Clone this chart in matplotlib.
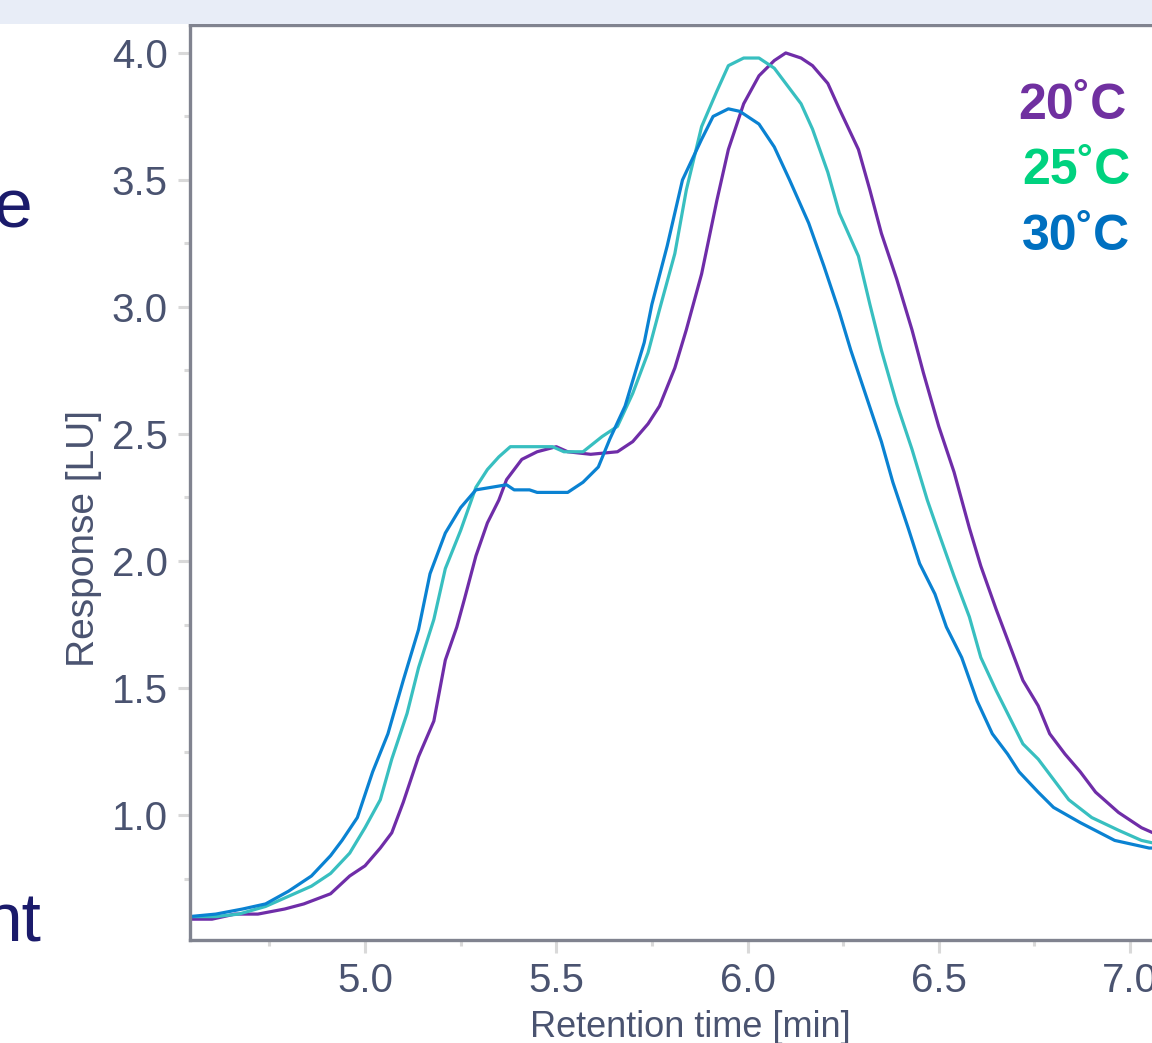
import matplotlib.pyplot as plt
from matplotlib.ticker import MultipleLocator
from matplotlib.patches import Rectangle

# retention time [min] / response [LU]
t20 = [4.54, 4.60, 4.66, 4.72, 4.79, 4.84, 4.91, 4.96, 5.00, 5.04, 5.07, 5.10, 5.14, 5.18, 5.21, 5.24,
       5.26, 5.29, 5.32, 5.35, 5.37, 5.41, 5.45, 5.50, 5.53, 5.59, 5.66, 5.70, 5.74, 5.77, 5.81, 5.84,
       5.88, 5.92, 5.95, 5.99, 6.03, 6.07, 6.10, 6.14, 6.17, 6.21, 6.24, 6.29, 6.32, 6.35, 6.39, 6.43,
       6.46, 6.50, 6.54, 6.58, 6.61, 6.65, 6.69, 6.72, 6.76, 6.79, 6.83, 6.87, 6.91, 6.97, 7.03, 7.06]
r20 = [0.59, 0.59, 0.61, 0.61, 0.63, 0.65, 0.69, 0.76, 0.80, 0.87, 0.93, 1.05, 1.23, 1.37, 1.61, 1.74,
       1.85, 2.02, 2.15, 2.24, 2.32, 2.40, 2.43, 2.45, 2.43, 2.42, 2.43, 2.47, 2.54, 2.61, 2.76, 2.91,
       3.13, 3.42, 3.62, 3.80, 3.91, 3.97, 4.00, 3.98, 3.95, 3.88, 3.78, 3.62, 3.46, 3.29, 3.11, 2.91,
       2.74, 2.53, 2.35, 2.13, 1.98, 1.81, 1.65, 1.53, 1.43, 1.32, 1.24, 1.17, 1.09, 1.01, 0.95, 0.93]

t25 = [4.54, 4.61, 4.67, 4.74, 4.80, 4.86, 4.91, 4.96, 5.00, 5.04, 5.07, 5.11, 5.14, 5.18, 5.21, 5.25,
       5.29, 5.32, 5.35, 5.38, 5.49, 5.52, 5.57, 5.62, 5.66, 5.70, 5.74, 5.77, 5.81, 5.84, 5.88, 5.92,
       5.95, 5.99, 6.03, 6.07, 6.10, 6.14, 6.17, 6.21, 6.24, 6.29, 6.32, 6.35, 6.39, 6.43, 6.47, 6.50,
       6.54, 6.58, 6.61, 6.65, 6.69, 6.72, 6.76, 6.80, 6.84, 6.90, 6.97, 7.03, 7.06]
r25 = [0.60, 0.60, 0.61, 0.64, 0.68, 0.72, 0.77, 0.85, 0.95, 1.06, 1.22, 1.40, 1.58, 1.77, 1.97, 2.12,
       2.29, 2.36, 2.41, 2.45, 2.45, 2.43, 2.43, 2.49, 2.53, 2.66, 2.82, 2.99, 3.21, 3.46, 3.71, 3.85,
       3.95, 3.98, 3.98, 3.94, 3.88, 3.80, 3.70, 3.53, 3.37, 3.20, 3.01, 2.83, 2.62, 2.44, 2.24, 2.11,
       1.94, 1.78, 1.62, 1.49, 1.37, 1.28, 1.22, 1.14, 1.06, 0.99, 0.94, 0.90, 0.89]

t30 = [4.54, 4.61, 4.68, 4.74, 4.80, 4.86, 4.91, 4.94, 4.98, 5.02, 5.06, 5.10, 5.14, 5.17, 5.21, 5.25,
       5.29, 5.33, 5.37, 5.39, 5.43, 5.45, 5.53, 5.57, 5.61, 5.64, 5.68, 5.71, 5.73, 5.75, 5.79, 5.83,
       5.88, 5.91, 5.95, 5.98, 6.03, 6.07, 6.11, 6.16, 6.20, 6.24, 6.27, 6.31, 6.35, 6.38, 6.42, 6.45,
       6.49, 6.52, 6.56, 6.60, 6.64, 6.68, 6.71, 6.76, 6.80, 6.87, 6.96, 7.05, 7.06]
r30 = [0.60, 0.61, 0.63, 0.65, 0.70, 0.76, 0.84, 0.90, 0.99, 1.17, 1.32, 1.53, 1.73, 1.95, 2.11, 2.21,
       2.28, 2.29, 2.30, 2.28, 2.28, 2.27, 2.27, 2.31, 2.37, 2.48, 2.61, 2.76, 2.86, 3.01, 3.24, 3.50,
       3.66, 3.75, 3.78, 3.77, 3.72, 3.63, 3.50, 3.33, 3.16, 2.98, 2.83, 2.65, 2.47, 2.31, 2.13, 1.99,
       1.87, 1.74, 1.62, 1.45, 1.32, 1.24, 1.17, 1.09, 1.03, 0.97, 0.90, 0.87, 0.87]

temps = ['20˚C', '25˚C', '30˚C']
line_colors = ['#6F2DA8', '#38BFC0', '#0A82D2']
text_colors = ['#7030A0', '#00D27F', '#0070C0']

W, H = 1152, 1043
fig = plt.figure(figsize=(W / 100, H / 100), dpi=100)
fig.patch.set_facecolor('white')

# light band at the top of the slide
fig.patches.append(Rectangle((0, 1 - 24 / H), 1, 24 / H, transform=fig.transFigure,
                             facecolor='#E8EDF7', edgecolor='none', zorder=0))

ax = fig.add_axes([190 / W, 103 / H, 962 / W, 915 / H])
for t, r, c in zip([t20, t25, t30], [r20, r25, r30], line_colors):
    ax.plot(t, r, color=c, lw=2.3, solid_joinstyle='round')

ax.set_xlim(4.5425, 7.0575)
ax.set_ylim(0.508, 4.11)

spine_c = '#80838F'
for s in ['left', 'bottom', 'top']:
    ax.spines[s].set_color(spine_c)
    ax.spines[s].set_linewidth(2.4)
ax.spines['right'].set_visible(False)

ax.xaxis.set_minor_locator(MultipleLocator(0.25))
ax.yaxis.set_minor_locator(MultipleLocator(0.25))
ax.set_xticks([5.0, 5.5, 6.0, 6.5, 7.0])
ax.set_yticks([1.0, 1.5, 2.0, 2.5, 3.0, 3.5, 4.0])

tick_font = ['Liberation Sans Narrow', 'Liberation Sans', 'DejaVu Sans']
ax.tick_params(which='major', direction='out', length=9, width=2.2, color='#D9D9D9',
               labelcolor='#4A5370', labelsize=29, pad=7)
ax.tick_params(which='minor', direction='out', length=4.5, width=2.2, color='#D9D9D9')
for lab in ax.get_xticklabels() + ax.get_yticklabels():
    lab.set_fontfamily(tick_font)

ax.set_xlabel('Retention time [min]', fontsize=26, color='#4A5370',
              family=['Liberation Sans', 'DejaVu Sans'])
ax.xaxis.set_label_coords(0.52, -0.076)
ax.set_ylabel('Response [LU]', fontsize=28, color='#4A5370',
              family=['Liberation Sans', 'DejaVu Sans'])
ax.yaxis.set_label_coords(-0.091, 0.439)

# temperature labels
ys = [106, 171, 237]
xs = [1018, 1022, 1022]
for lab, c, x, y in zip(temps, text_colors, xs, ys):
    fig.text(x / W, 1 - y / H, lab, color=c, fontsize=36, fontweight='bold',
             ha='left', va='center', family=['Liberation Sans', 'DejaVu Sans'])

# fragments of the slide text at the left edge
fig.text(33 / W, 1 - 228 / H, 'e', color='#1B1B6B', fontsize=50, ha='right', va='baseline',
         family=['Liberation Sans', 'DejaVu Sans'])
fig.text(41 / W, 1 - 941 / H, 'nt', color='#1B1B6B', fontsize=50, ha='right', va='baseline',
         family=['Liberation Sans', 'DejaVu Sans'])

fig.savefig('out.png', dpi=100)
